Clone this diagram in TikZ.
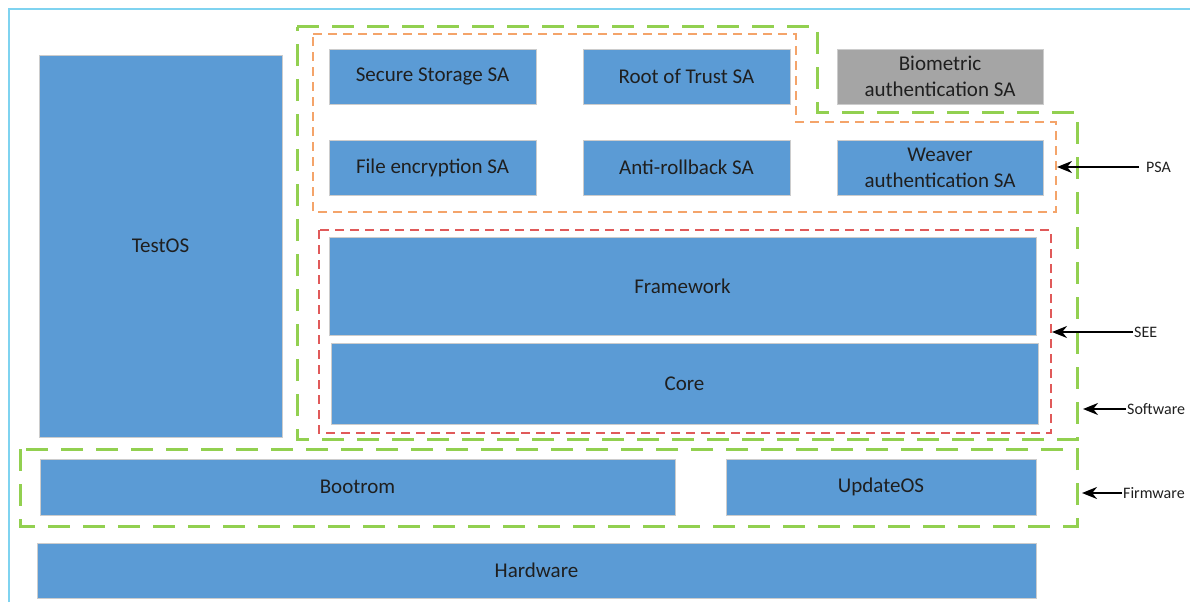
\documentclass[tikz,border=0pt]{standalone}
\usepackage{fontspec}
\setmainfont{Carlito}
\usetikzlibrary{arrows.meta}
\definecolor{boxblue}{HTML}{5B9BD5}
\definecolor{boxgray}{HTML}{A5A5A5}
\definecolor{dgreen}{HTML}{92D050}
\definecolor{dorange}{HTML}{F4A46A}
\definecolor{dred}{HTML}{E05A5A}
\definecolor{framecol}{HTML}{7FD3F0}
\definecolor{txt}{HTML}{1F1F1F}
\tikzset{
  box/.style={draw=black!20, line width=0.8pt, fill=boxblue, text=txt, inner sep=0pt,
    align=center, font=\fontsize{21}{26}\selectfont},
  graybox/.style={box, fill=boxgray},
  greendash/.style={draw=dgreen, line width=3pt, dash pattern=on 22pt off 13pt},
  orangedash/.style={draw=dorange, line width=1.5pt, dash pattern=on 9pt off 6pt},
  reddash/.style={draw=dred, line width=1.5pt, dash pattern=on 9pt off 6pt},
  lbl/.style={text=txt, inner sep=1pt, font=\fontsize{16}{19}\selectfont, anchor=west},
  arr/.style={draw=black, line width=2.2pt, -{Stealth[length=15pt,width=12pt]}}
}
\begin{document}
\begin{tikzpicture}[x=1pt,y=-1pt]
\useasboundingbox (0,0) rectangle (1190,602);
% outer frame
\draw[framecol, line width=1.2pt] (9,602) -- (9,9) -- (1190,9);
% dashed regions
\draw[greendash] (297,27) -- (817,27) -- (817,112) -- (1077,112) -- (1077,439) -- (297,439) -- cycle;
\draw[orangedash] (313,34) -- (796,34) -- (796,122) -- (1056,122) -- (1056,212) -- (313,212) -- cycle;
\draw[reddash] (319,230) rectangle (1051,433);
\draw[greendash] (20,449) rectangle (1077,526);
% boxes
\node[box, minimum width=243pt, minimum height=382pt] (testos) at (160.5,246) {TestOS};
\node[box, minimum width=207pt, minimum height=55pt] (ss) at (432.5,76.5) {Secure Storage SA};
\node[box, minimum width=207pt, minimum height=55pt] (rot) at (686.5,76.5) {Root of Trust SA};
\node[graybox, minimum width=206pt, minimum height=55pt] (bio) at (940,76.5) {Biometric\\authentication SA};
\node[box, minimum width=207pt, minimum height=55pt] (fe) at (432.5,167.5) {File encryption SA};
\node[box, minimum width=207pt, minimum height=55pt] (ar) at (686.5,167.5) {Anti-rollback SA};
\node[box, minimum width=206pt, minimum height=55pt] (wv) at (940,167.5) {Weaver\\authentication SA};
\node[box, minimum width=707pt, minimum height=98pt] (fw) at (682.5,286) {Framework};
\node[box, minimum width=707pt, minimum height=81pt] (core) at (684.5,383.5) {Core};
\node[box, minimum width=635pt, minimum height=56pt] (boot) at (357.5,487) {Bootrom};
\node[box, minimum width=310pt, minimum height=56pt] (upd) at (881,487) {UpdateOS};
\node[box, minimum width=999pt, minimum height=55pt] (hw) at (536.5,570.5) {Hardware};
% labels and arrows
\node[lbl] (psa) at (1145,167) {PSA};
\node[lbl] (see) at (1133,332) {SEE};
\node[lbl] (sw) at (1126,409) {Software};
\node[lbl] (fwl) at (1122,493) {Firmware};
\coordinate (psaT) at (1057,167);
\coordinate (seeT) at (1052,332);
\coordinate (swT) at (1083,409);
\coordinate (fwT) at (1082,493);
\draw[arr] (psa.west) ++(-6pt,0) -- (psaT);
\draw[arr] (see.west) -- (seeT);
\draw[arr] (sw.west) -- (swT);
\draw[arr] (fwl.west) -- (fwT);
\end{tikzpicture}
\end{document}
